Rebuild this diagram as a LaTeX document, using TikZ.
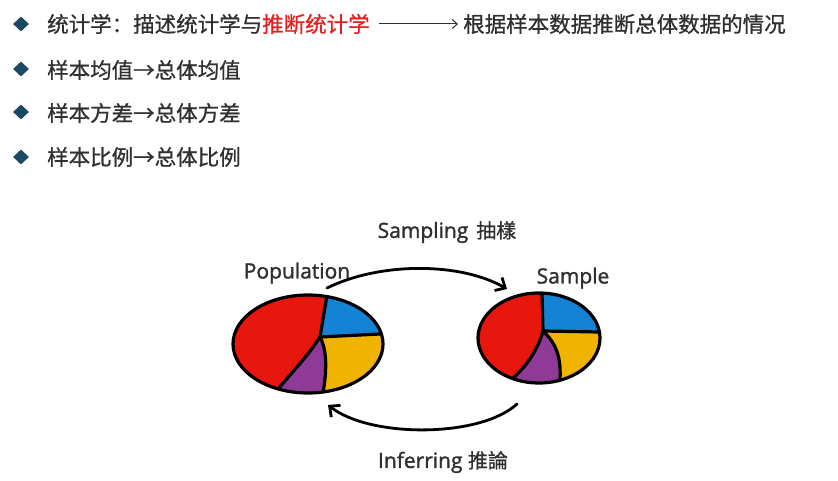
\documentclass[tikz,border=0pt]{standalone}
\usepackage{fontspec}
\setmainfont[FakeBold=1.5]{Open Sans}
\newfontfamily\cjk[FakeBold=0.8]{Noto Sans CJK SC}
\usetikzlibrary{arrows.meta,positioning,shapes.geometric}
\definecolor{txt}{HTML}{303030}
\definecolor{bul}{HTML}{1A4A63}
\definecolor{hl}{HTML}{E5201E}
\definecolor{pred}{HTML}{E8170E}
\definecolor{pblue}{HTML}{1483D6}
\definecolor{pyel}{HTML}{F0B400}
\definecolor{ppur}{HTML}{8E3A96}
\begin{document}
\begin{tikzpicture}[x=1pt,y=1pt,bullet/.style={diamond,fill=bul,inner sep=0,minimum width=16,minimum height=15},rowtext/.style={anchor=west,inner sep=0,text=txt,font=\cjk\fontsize{21.5}{24}\selectfont},lbl/.style={inner sep=0,text=txt,font=\fontsize{21}{24}\selectfont},pie/.style={ellipse,draw,line width=3.2,inner sep=0},seam/.style={line width=3.2,line cap=round},flow/.style={-{Straight Barb[length=8pt,width=15pt]},line width=2.8,line cap=round}]
\useasboundingbox[fill=white] (0,0) rectangle (838,-481);
% bullet list
\node[bullet] (b1) at (21,-24) {};
\node[bullet] (b2) at (21,-69) {};
\node[bullet] (b3) at (21,-112) {};
\node[bullet] (b4) at (21,-157) {};
\node[rowtext] (t1) at (47,-24) {统计学：描述统计学与\textcolor{hl}{推断统计学}};
\node[rowtext] (t2) at (463,-24) {根据样本数据推断总体数据的情况};
\node[rowtext] (t3) at (47,-70) {样本均值→总体均值};
\node[rowtext] (t4) at (47,-113) {样本方差→总体方差};
\node[rowtext] (t5) at (47,-157) {样本比例→总体比例};
\draw[-{Straight Barb[length=5pt,width=9pt]},line width=1,txt] ([xshift=9pt]t1.east)--([xshift=-5pt]t2.west);
% population pie
\begin{scope}
\clip (308,-344) ellipse [x radius=75,y radius=49];
\fill[pred] (230,-290) rectangle (390,-400);
\fill[pblue] (327,-280)--(327,-295)--(320,-337)--(380,-334)--(400,-334)--(400,-280)--cycle;
\fill[pyel] (320,-337)--(380,-334)--(400,-334)--(400,-405)--(323,-405)--(323,-393) .. controls (327,-370) and (327,-350) .. (320,-337);
\fill[ppur] (320,-337) .. controls (327,-350) and (327,-370) .. (323,-393)--(323,-405)--(270,-405)--(278,-389) .. controls (310,-352) .. (320,-337);
\draw[seam] (327,-295)--(320,-337)--(380,-334);
\draw[seam] (320,-337) .. controls (327,-350) and (327,-370) .. (323,-393);
\draw[seam] (320,-337) .. controls (310,-352) .. (278,-389);
\end{scope}
\node[pie,minimum width=150,minimum height=98] (pop) at (308,-344) {};
% sample pie
\begin{scope}
\clip (539,-338) ellipse [x radius=61,y radius=45];
\fill[pred] (470,-290) rectangle (610,-390);
\fill[pblue] (542,-285)--(542,-293)--(543,-331)--(599,-332)--(610,-332)--(610,-285)--cycle;
\fill[pyel] (543,-331)--(599,-332)--(610,-332)--(610,-390)--(560,-390)--(560,-380) .. controls (561,-360) and (558,-345) .. (543,-331);
\fill[ppur] (543,-331) .. controls (558,-345) and (561,-360) .. (560,-380)--(560,-390)--(505,-390)--(513,-378) .. controls (525,-368) and (538,-350) .. (543,-331);
\draw[seam] (542,-293)--(543,-331)--(599,-332);
\draw[seam] (543,-331) .. controls (558,-345) and (561,-360) .. (560,-380);
\draw[seam] (543,-331) .. controls (538,-350) and (525,-368) .. (513,-378);
\end{scope}
\node[pie,minimum width=122,minimum height=90] (samp) at (539,-338) {};
% labels and arrows
\node[lbl] (poplbl) at (297,-273) {Population};
\node[lbl] (samplbl) at (573,-278) {Sample};
\node[lbl] (samptxt) at (447,-232) {Sampling\hspace{8pt}{\cjk\fontsize{20}{24}\selectfont 抽樣}};
\node[lbl] (inftxt) at (443,-462) {Inferring {\cjk\fontsize{20}{24}\selectfont 推論}};
\coordinate (s0) at (327,-288);\coordinate (s1) at (507,-289);
\coordinate (i0) at (517,-404);\coordinate (i1) at (328,-405);
\draw[flow] (s0) .. controls (380,-262) and (460,-262) .. (s1);
\draw[flow] (i0) .. controls (480,-438) and (370,-438) .. (i1);
\end{tikzpicture}
\end{document}
